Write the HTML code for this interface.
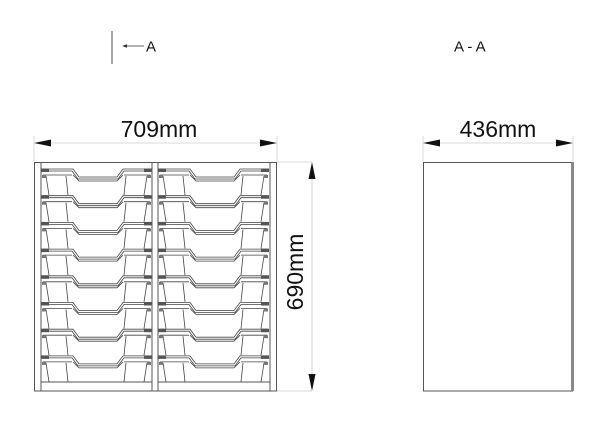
<!DOCTYPE html>
<html><head><style>
html,body{margin:0;padding:0;background:#fff;}
svg{display:block;}
text{font-family:"Liberation Sans",sans-serif;fill:#111;}
</style></head><body>
<svg width="600" height="425" viewBox="0 0 600 425" xmlns="http://www.w3.org/2000/svg">
<defs>
<g id="tray" fill="none" stroke="#444" stroke-width="0.8">
  <path d="M2,0 H32 L38,8 H76 L82,0 H109"/>
  <path d="M2,2 H31 L37,10 H77 L83,2 H109"/>
  <path d="M32,6 L38,12 H76 L82,6"/>
  <path d="M2,6 H31 M83,6 H109"/>
  <path d="M25,7 L27,26 M85,7 L83,26"/>
  <path d="M5,7 L8,26 M106,7 L103,26"/>
  <rect x="0" y="-0.5" width="8" height="3.5" fill="#555" stroke="none"/>
  <rect x="103" y="-0.5" width="8" height="3.5" fill="#555" stroke="none"/>
  <rect x="1" y="6" width="4" height="3" fill="#777" stroke="none"/>
  <rect x="106" y="6" width="4" height="3" fill="#777" stroke="none"/>
</g>
<g id="col">
  <use href="#tray" y="169"/><use href="#tray" y="195.7"/><use href="#tray" y="222.4"/><use href="#tray" y="249.1"/>
  <use href="#tray" y="275.8"/><use href="#tray" y="302.5"/><use href="#tray" y="329.2"/><use href="#tray" y="355.9"/>
</g>
</defs>

<line x1="112" y1="31" x2="112" y2="64" stroke="#555" stroke-width="1"/>
<line x1="125" y1="46" x2="144" y2="46" stroke="#333" stroke-width="0.8"/>
<path d="M122,46 L127,44.3 L127,47.7 Z" fill="#333"/>
<text x="146" y="51.5" font-size="15">A</text>
<text x="454" y="51.5" font-size="15">A - A</text>

<g fill="none" stroke="#555" stroke-width="1">
  <rect x="34.5" y="162.5" width="242" height="228.5"/>
  <line x1="41" y1="163" x2="41" y2="391"/>
  <line x1="152" y1="163" x2="152" y2="391"/>
  <line x1="158" y1="163" x2="158" y2="391"/>
  <line x1="270" y1="163" x2="270" y2="391"/>
  <line x1="41" y1="382" x2="152" y2="382"/>
  <line x1="158" y1="382" x2="270" y2="382"/>
</g>
<use href="#col" x="41"/>
<use href="#col" x="158"/>

<g stroke="#ccc" stroke-width="0.7">
  <line x1="34" y1="136" x2="34" y2="162"/>
  <line x1="277" y1="136" x2="277" y2="162"/>
  <line x1="277" y1="162" x2="312" y2="162"/>
  <line x1="277" y1="391" x2="312" y2="391"/>
  <line x1="423" y1="136" x2="423" y2="162"/>
  <line x1="573" y1="136" x2="573" y2="162"/>
</g>
<line x1="48" y1="143" x2="263" y2="143" stroke="#ccc" stroke-width="0.8"/>
<path d="M34,143 L51,139.5 L51,146.5 Z" fill="#111"/>
<path d="M277,143 L260,139.5 L260,146.5 Z" fill="#111"/>
<text x="159" y="137" font-size="23" text-anchor="middle">709mm</text>

<line x1="312" y1="176" x2="312" y2="377" stroke="#ccc" stroke-width="0.8"/>
<path d="M312,162 L308.5,179 L315.5,179 Z" fill="#111"/>
<path d="M312,391 L308.5,374 L315.5,374 Z" fill="#111"/>
<text x="0" y="0" font-size="23" text-anchor="middle" transform="translate(303,272) rotate(-90)">690mm</text>

<rect x="423.5" y="162.5" width="149" height="228.5" fill="none" stroke="#555" stroke-width="1"/>
<rect x="571" y="162" width="3" height="229" fill="#888"/>
<line x1="437" y1="143" x2="559" y2="143" stroke="#ccc" stroke-width="0.8"/>
<path d="M423,143 L440,139.5 L440,146.5 Z" fill="#111"/>
<path d="M573,143 L556,139.5 L556,146.5 Z" fill="#111"/>
<text x="498" y="137" font-size="23" text-anchor="middle">436mm</text>
</svg>
</body></html>
